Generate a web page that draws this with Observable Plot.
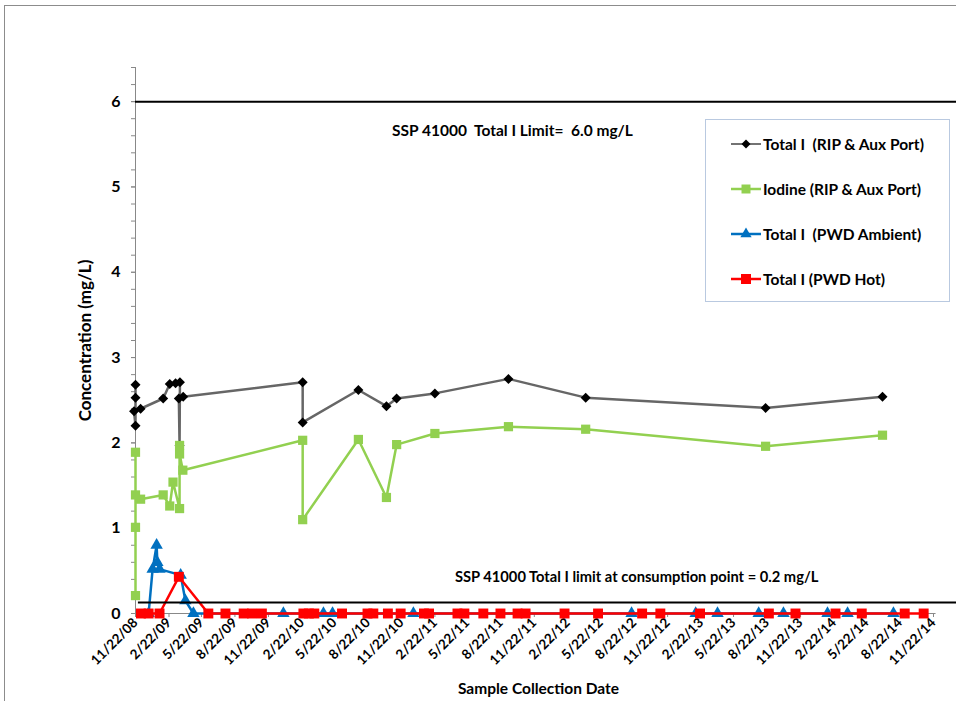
<!DOCTYPE html>
<html><head><meta charset="utf-8">
<script src="https://cdn.jsdelivr.net/npm/d3@7"></script>
<script src="https://cdn.jsdelivr.net/npm/@observablehq/plot@0.6"></script>
<style>
body{margin:0;background:#fff;overflow:hidden;font-family:Lato,"Open Sans",sans-serif;}
#wrap{position:relative;width:956px;height:701px;overflow:hidden;}
#border{position:absolute;left:4px;top:5px;width:1000px;height:1000px;border:1px solid #8c8c8c;}
#chart{position:absolute;left:0;top:0;}
svg text{white-space:pre;}
#legend{position:absolute;left:705px;top:119px;width:243px;height:181px;border:1px solid #b9c9e0;background:#fff;}
.row{position:absolute;left:25px;height:20px;display:flex;align-items:center;font-weight:bold;font-size:15.5px;white-space:pre;color:#000;}
.row svg{margin-right:2px;}
</style></head>
<body><div id="wrap"><div id="border"></div><div id="chart"></div><div id="legend"></div></div>
<script>
// ---- data ----
const tickLabels = ["11/22/08","2/22/09","5/22/09","8/22/09","11/22/09","2/22/10","5/22/10","8/22/10","11/22/10","2/22/11","5/22/11","8/22/11","11/22/11","2/22/12","5/22/12","8/22/12","11/22/12","2/22/13","5/22/13","8/22/13","11/22/13","2/22/14","5/22/14","8/22/14","11/22/14"];
const yTickValues = [0,1,2,3,4,5,6];

const totalIDates = ["2008-11-22","2008-11-22","2008-11-22","2008-11-18","2008-12-06","2009-02-06","2009-02-24","2009-03-12","2009-03-24","2009-03-23","2009-03-21","2009-04-02","2010-02-24","2010-02-24","2010-07-27","2010-10-12","2010-11-09","2011-02-22","2011-09-12","2012-04-11","2013-08-18","2014-07-05"];
const totalIValues = [2.68,2.53,2.20,2.37,2.40,2.52,2.69,2.70,2.71,1.97,2.52,2.54,2.71,2.24,2.62,2.43,2.52,2.58,2.75,2.53,2.41,2.54];

const iodineDates = ["2008-11-22","2008-11-22","2008-11-22","2008-11-22","2008-12-06","2009-02-06","2009-02-24","2009-03-05","2009-03-23","2009-03-23","2009-03-23","2009-04-01","2010-02-24","2010-02-24","2010-07-27","2010-10-12","2010-11-09","2011-02-22","2011-09-12","2012-04-11","2013-08-18","2014-07-05"];
const iodineValues = [0.21,1.01,1.89,1.39,1.34,1.39,1.26,1.54,1.23,1.97,1.87,1.68,2.03,1.10,2.04,1.36,1.98,2.11,2.19,2.16,1.96,2.09];

const ambientDates = ["2008-12-28","2009-01-08","2009-01-19","2009-01-21","2009-01-27","2009-03-26","2009-04-08","2009-04-30","2010-01-02","2010-04-22","2010-05-17","2010-12-25","2012-08-15","2013-02-07","2013-04-08","2013-07-30","2013-10-06","2014-02-04","2014-03-31","2014-08-04"];
const ambientValues = [0,0.52,0.80,0.60,0.52,0.45,0.15,0,0,0,0,0,0,0,0,0,0,0,0,0];

const hotDates = ["2008-12-07","2008-12-28","2009-01-27","2009-03-21","2009-06-10","2009-07-27","2009-09-15","2009-10-08","2009-11-04","2010-02-26","2010-03-13","2010-03-28","2010-06-12","2010-08-21","2010-09-06","2010-10-16","2010-11-20","2011-01-23","2011-02-06","2011-04-25","2011-05-14","2011-07-05","2011-08-21","2011-10-07","2011-10-29","2012-02-13","2012-05-15","2012-09-13","2012-11-02","2013-02-19","2013-08-27","2013-11-08","2014-02-26","2014-05-09","2014-09-04","2014-10-26"];
const hotValues = [0,0,0,0.43,0,0,0,0,0,0,0,0,0,0,0,0,0,0,0,0,0,0,0,0,0,0,0,0,0,0,0,0,0,0,0,0];

const seriesNames = ["Total I  (RIP & Aux Port)","Iodine (RIP & Aux Port)","Total I  (PWD Ambient)","Total I (PWD Hot)"];
const limitValues = [6.0, 0.13];
const limitTexts = ["SSP 41000  Total I Limit=  6.0 mg/L","SSP 41000 Total I limit at consumption point = 0.2 mg/L"];

// ---- build ----
const parse = d3.utcParse("%Y-%m-%d");
const tickParse = d3.utcParse("%m/%d/%y");
const tickDates = tickLabels.map(tickParse);
const mk = (ds, vs) => ds.map((d, i) => ({date: parse(d), value: vs[i]}));
const totalI = mk(totalIDates, totalIValues);
const iodine = mk(iodineDates, iodineValues);
const ambient = mk(ambientDates, ambientValues);
const hot = mk(hotDates, hotValues);

const xStart = tickDates[0], xEnd = tickDates[tickDates.length - 1];
const xRight = parse("2015-01-25");
const yMax = 6.4;
const minorTicks = d3.range(0, 33).map(i => +(i * 0.2).toFixed(1));

const C = {black: "#666666", green: "#92D050", blue: "#0070C0", red: "#FF0000"};

const chart = Plot.plot({
  width: 956, height: 701,
  marginLeft: 135, marginRight: 23, marginTop: 67, marginBottom: 88,
  style: {fontFamily: "Lato, 'Open Sans', sans-serif", background: "transparent", color: "#000"},
  x: {type: "utc", domain: [xStart, xEnd]},
  y: {domain: [0, yMax]},
  marks: [
    Plot.axisY({ticks: minorTicks, tickSize: 4, tickFormat: () => "", stroke: "#888", label: null}),
    Plot.axisY({ticks: yTickValues, tickSize: 4, tickPadding: 11, tickFormat: d => String(d), fontSize: 16, fontWeight: "bold", stroke: "#888", fill: "#000", label: null}),
    Plot.axisX({ticks: tickDates, tickFormat: (d, i) => tickLabels[i], tickRotate: -45, tickSize: 4, tickPadding: 3, fontSize: 13.5, fontWeight: "bold", stroke: "#888", fill: "#000", label: null}),
    Plot.ruleX([xStart], {y1: () => 0, y2: () => yMax, stroke: "#888"}),
    Plot.ruleY([0], {x1: () => xStart, x2: () => parse("2014-11-29"), stroke: "#888"}),
    // series
    Plot.line(totalI, {x: "date", y: "value", stroke: C.black, strokeWidth: 2.5}),
    Plot.dot(totalI, {x: "date", y: "value", symbol: "diamond2", r: 4.5, fill: "#000"}),
    Plot.line(iodine, {x: "date", y: "value", stroke: C.green, strokeWidth: 2.5}),
    Plot.dot(iodine, {x: "date", y: "value", symbol: "square", r: 5.2, fill: C.green}),
    Plot.line(ambient, {x: "date", y: "value", stroke: C.blue, strokeWidth: 2.5}),
    Plot.dot(ambient, {x: "date", y: "value", symbol: "triangle", r: 4.6, fill: C.blue}),
    Plot.line(hot, {x: "date", y: "value", stroke: C.red, strokeWidth: 2.5}),
    Plot.dot(hot, {x: "date", y: "value", symbol: "square", r: 5.6, fill: C.red}),
    // limit lines
    Plot.ruleY([limitValues[0]], {x1: () => xStart, x2: () => xRight, stroke: "#000", strokeWidth: 2}),
    Plot.ruleY([limitValues[1]], {x1: () => parse("2008-11-30"), x2: () => xRight, stroke: "#000", strokeWidth: 2}),
    Plot.text([limitTexts[0]], {x: () => parse("2011-09-23"), y: () => 5.66, fontSize: 15.5, fontWeight: "bold", fill: "#000"}),
    Plot.text([limitTexts[1]], {x: () => parse("2012-08-29"), y: () => 0.42, fontSize: 14.7, fontWeight: "bold", fill: "#000"}),
    // axis titles
    Plot.text(["Concentration (mg/L)"], {frameAnchor: "left", rotate: -90, dx: -50, textAnchor: "middle", lineAnchor: "middle", fontSize: 17, fontWeight: "bold", fill: "#000"}),
    Plot.text(["Sample Collection Date"], {frameAnchor: "bottom", dy: 76, dx: 4, textAnchor: "middle", lineAnchor: "middle", fontSize: 15.5, fontWeight: "bold", fill: "#000"})
  ]
});
document.getElementById("chart").appendChild(chart);

// legend
const legendDefs = [
  {stroke: "#444", width: 1.5, symbol: d3.symbolDiamond2, size: 51, fill: "#000"},
  {stroke: C.green, width: 2.5, symbol: d3.symbolSquare, size: 81, fill: C.green},
  {stroke: C.blue, width: 2.5, symbol: d3.symbolTriangle, size: 55, fill: C.blue},
  {stroke: C.red, width: 2.5, symbol: d3.symbolSquare, size: 100, fill: C.red}
];
const legend = d3.select("#legend");
seriesNames.forEach((name, i) => {
  const row = legend.append("div").attr("class", "row").style("top", (14 + i * 45) + "px");
  const sv = row.append("svg").attr("width", 30).attr("height", 14);
  sv.append("line").attr("x1", 0).attr("x2", 30).attr("y1", 7).attr("y2", 7)
    .attr("stroke", legendDefs[i].stroke).attr("stroke-width", legendDefs[i].width);
  sv.append("path").attr("transform", "translate(15,7)")
    .attr("d", d3.symbol(legendDefs[i].symbol, legendDefs[i].size)()).attr("fill", legendDefs[i].fill);
  row.append("span").text(name);
});
</script></body></html>
